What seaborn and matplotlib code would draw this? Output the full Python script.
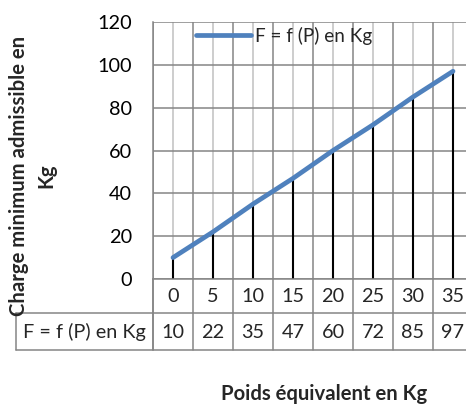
import numpy as np
import pandas as pd
import matplotlib
matplotlib.use("Agg")
import matplotlib.pyplot as plt
import seaborn as sns

# Data
poids = [0, 5, 10, 15, 20, 25, 30, 35]
charge = [10, 22, 35, 47, 60, 72, 85, 97]
series_name = "F = f (P) en Kg"
y_label = "Charge minimum admissible en\nKg"
x_label = "Poids équivalent en Kg"
y_ticks = [0, 20, 40, 60, 80, 100, 120]

sns.set_style("white")
plt.rcParams["font.family"] = ["Lato", "DejaVu Sans"]

W, H = 466, 405
fig = plt.figure(figsize=(W / 100, H / 100), dpi=100)

# axes in pixel positions
L, R, T, B = 153, 473, 22, 279
ax = fig.add_axes([L / W, 1 - B / H, (R - L) / W, (B - T) / H])

DARK = "#858585"
LIGHT = "#c0c0c0"
BLUE = "#4F81BD"

df = pd.DataFrame({"poids": poids, "charge": charge})

ax.set_xlim(-2.5, 37.5)
ax.set_ylim(0, 120)

# gridlines
ax.set_yticks(y_ticks)
ax.set_xticks(np.arange(-2.5, 40, 5))
ax.set_xticks(poids, minor=True)
ax.grid(True, which="major", axis="both", color=DARK, linewidth=1.1)
ax.grid(True, which="minor", axis="x", color=LIGHT, linewidth=1.1)
ax.set_axisbelow(True)
ax.tick_params(axis="x", which="both", length=0, labelbottom=False)
ax.tick_params(axis="y", length=6 * 0.72, width=1.1, color=DARK, pad=15 * 0.72,
               labelsize=14.3, labelcolor="black")

for s in ["top", "right"]:
    ax.spines[s].set_visible(False)
ax.spines["left"].set_color(DARK)
ax.spines["bottom"].set_color(DARK)
ax.spines["left"].set_linewidth(1.1)
ax.spines["bottom"].set_linewidth(1.1)

# drop lines
ax.vlines(df["poids"], 0, df["charge"], color="black", linewidth=1.5, zorder=2)

sns.lineplot(data=df, x="poids", y="charge", ax=ax, color=BLUE, linewidth=3.4,
             label=series_name, solid_capstyle="round", zorder=3)
ax.set_xlabel("")
ax.set_ylabel("")

leg = ax.legend(loc="center left", bbox_to_anchor=(196 / W, 1 - 36 / H),
                bbox_transform=fig.transFigure, frameon=False, fontsize=13.6,
                borderpad=0, borderaxespad=0, handlelength=2.9, handletextpad=0.2)

# data table
ah = B - T
aw = R - L
def yf(py):
    return -(py - B) / ah
def xf(px):
    return (px - L) / aw

tr = ax.get_xaxis_transform()
for xb in np.arange(-2.5, 40, 5):
    ax.plot([xb, xb], [0, yf(350)], color=DARK, linewidth=1.1, transform=tr, clip_on=False)
ax.plot([0, 0], [0, yf(350)], color=DARK, linewidth=1.1, transform=ax.transAxes, clip_on=False)
for py in [313, 350]:
    ax.plot([xf(16), 1], [yf(py), yf(py)], color=DARK, linewidth=1.1,
            transform=ax.transAxes, clip_on=False)
ax.plot([xf(16), xf(16)], [yf(313), yf(350)], color=DARK, linewidth=1.1,
        transform=ax.transAxes, clip_on=False)

for p, c in zip(poids, charge):
    ax.text(p, yf(297), str(p), transform=tr, ha="center", va="center", fontsize=14.3)
    ax.text(p, yf(332), str(c), transform=tr, ha="center", va="center", fontsize=14.3)
ax.text(xf(84), yf(332), series_name, transform=ax.transAxes, ha="center",
        va="center", fontsize=14.3)

# axis titles
fig.text(33 / W, 1 - 176 / H, y_label, rotation=90, ha="center", va="center",
         fontsize=14.6, fontweight="bold", linespacing=1.45, multialignment="center")
fig.text(324 / W, 1 - 400 / H, x_label, ha="center", va="baseline",
         fontsize=14.6, fontweight="bold")

fig.savefig("out.png", dpi=100)
